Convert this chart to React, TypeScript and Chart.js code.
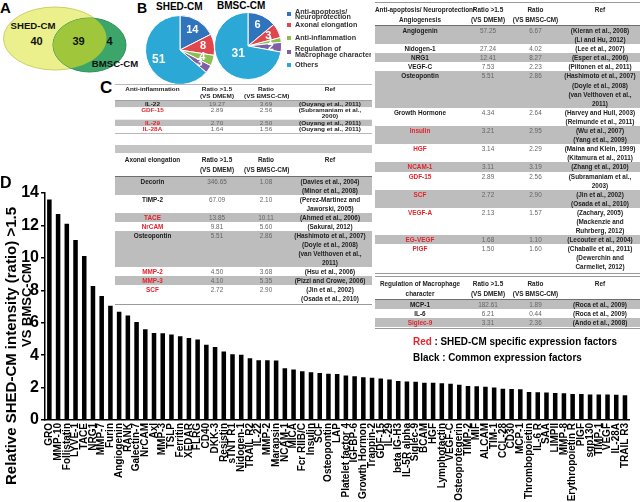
import React, { useEffect, useRef } from "react";
import { Chart, registerables } from "chart.js";
Chart.register(...registerables);

const FONT = '"Liberation Sans", Arial, Helvetica, sans-serif';

// ---------- Panel D data ----------
const factors = ["GRO","MMP-10","Follistatin","LYVE-1","TACE","NRG1","MMP-7","Furin","Angiogenin","RANK","Galectin-7","NrCAM","Axl","MMP-3","TSLP","Ferritin","XEDAR","FLRG","CD40","DKK-3","Resistin","sTNT R1","Nidogen-1","TRAIL R2","IL-22","MMP-2","Marapsin","NCAM-1","MICA","Fcr RIIB/C","Insulin","SCF","Osteopontin","LAP","Platelet factor 4","IGFBP-6","Growth Hormon","Trappin-2","GDF-15","IL-29","beta IG-H3","IL-5R alpha","Siglec-9","BCAM","HGF","Lymphotactin","VEGF-C","Osteoprotegerin","TIMP-2","MIF","ALCAM","TIM-1","CCL-28","CD30","MCP-1","Thrombopoietin","IL-6 R","SAA","LIMPII","MMP-8","Erythropoietin R","PlGF","sgp130","TIMP-1","VEGF","IL-28A","TRAIL R3"];
const ratioVsBMSC = [13.6,12.7,12.1,11.1,10.11,8.27,7.65,7.05,6.67,6.45,6.05,5.60,5.37,5.35,5.27,5.16,5.06,4.96,4.64,4.50,4.23,4.06,4.02,3.81,3.69,3.68,3.67,3.19,3.12,3.00,2.95,2.90,2.86,2.83,2.75,2.70,2.64,2.60,2.56,2.50,2.40,2.37,2.36,2.30,2.29,2.26,2.23,2.18,2.10,2.08,2.05,2.00,1.92,1.91,1.89,1.72,1.71,1.69,1.66,1.65,1.61,1.60,1.58,1.57,1.57,1.56,1.53];
const yMax = 14;
const yStep = 2;
const yTitleLine1 = "Relative SHED-CM intensity (ratio) >1.5";
const yTitleLine2 = "VS BMSC-CM";

// ---------- Panel A data ----------
const vennShedOnly = 40;
const vennCommon = 39;
const vennBmscOnly = 4;

// ---------- Panel B data ----------
const pieCategories = ["Anti-apoptosis/ Neuroprotection", "Axonal elongation", "Anti-inflammation", "Regulation of Macrophage character", "Others"];
const shedCounts = [14, 8, 4, 3, 51];
const bmscCounts = [6, 3, 1, 2, 31];
const pieColors = ["#3174be", "#e0474d", "#8dbe50", "#7f5fa5", "#2ba8d6"];

// ---------- Panel C data ----------
type Row = { name: string; red?: boolean; dmem: string; bmsc: string; refs: string[] };

const antiInflammationRows: Row[] = [
  { name: "IL-22", dmem: "19.27", bmsc: "3.69", refs: ["(Ouyang et al., 2011)"] },
  { name: "GDF-15", red: true, dmem: "2.89", bmsc: "2.56", refs: ["(Subramaniam et al.,", "2000)"] },
  { name: "IL-29", red: true, dmem: "2.70", bmsc: "2.50", refs: ["(Ouyang et al., 2011)"] },
  { name: "IL-28A", red: true, dmem: "1.64", bmsc: "1.56", refs: ["(Ouyang et al., 2011)"] },
];
const axonalRows: Row[] = [
  { name: "Decorin", dmem: "346.65", bmsc: "1.08", refs: ["(Davies et al., 2004)", "(Minor et al., 2008)"] },
  { name: "TIMP-2", dmem: "67.09", bmsc: "2.10", refs: ["(Perez-Martinez and", "Jaworski, 2005)"] },
  { name: "TACE", red: true, dmem: "13.85", bmsc: "10.11", refs: ["(Ahmed et al., 2006)"] },
  { name: "NrCAM", red: true, dmem: "9.81", bmsc: "5.60", refs: ["(Sakurai, 2012)"] },
  { name: "Osteopontin", dmem: "5.51", bmsc: "2.86", refs: ["(Hashimoto et al., 2007)", "(Doyle et al., 2008)", "(van Velthoven et al.,", "2011)"] },
  { name: "MMP-2", red: true, dmem: "4.50", bmsc: "3.68", refs: ["(Hsu et al., 2006)"] },
  { name: "MMP-3", red: true, dmem: "4.10", bmsc: "5.35", refs: ["(Pizzi and Crowe, 2006)"] },
  { name: "SCF", red: true, dmem: "2.72", bmsc: "2.90", refs: ["(Jin et al., 2002)", "(Osada et al., 2010)"] },
];
const angiogenesisRows: Row[] = [
  { name: "Angiogenin", dmem: "57.25", bmsc: "6.67", refs: ["(Kieran et al., 2008)", "(Li and Hu, 2012)"] },
  { name: "Nidogen-1", dmem: "27.24", bmsc: "4.02", refs: ["(Lee et al., 2007)"] },
  { name: "NRG1", dmem: "12.41", bmsc: "8.27", refs: ["(Esper et al., 2006)"] },
  { name: "VEGF-C", dmem: "7.53", bmsc: "2.23", refs: ["(Piltonen et al., 2011)"] },
  { name: "Osteopontin", dmem: "5.51", bmsc: "2.86", refs: ["(Hashimoto et al., 2007)", "(Doyle et al., 2008)", "(van Velthoven et al.,", "2011)"] },
  { name: "Growth Hormone", dmem: "4.34", bmsc: "2.64", refs: ["(Harvey and Hull, 2003)", "(Reimunde et al., 2011)"] },
  { name: "Insulin", red: true, dmem: "3.21", bmsc: "2.95", refs: ["(Wu et al., 2007)", "(Yang et al., 2009)"] },
  { name: "HGF", red: true, dmem: "3.14", bmsc: "2.29", refs: ["(Maina and Klein, 1999)", "(Kitamura et al., 2011)"] },
  { name: "NCAM-1", red: true, dmem: "3.11", bmsc: "3.19", refs: ["(Zhang et al., 2010)"] },
  { name: "GDF-15", red: true, dmem: "2.89", bmsc: "2.56", refs: ["(Subramaniam et al.,", "2003)"] },
  { name: "SCF", red: true, dmem: "2.72", bmsc: "2.90", refs: ["(Jin et al., 2002)", "(Osada et al., 2010)"] },
  { name: "VEGF-A", red: true, dmem: "2.13", bmsc: "1.57", refs: ["(Zachary, 2005)", "(Mackenzie and", "Ruhrberg, 2012)"] },
  { name: "EG-VEGF", red: true, dmem: "1.68", bmsc: "1.10", refs: ["(Lecouter et al., 2004)"] },
  { name: "PlGF", red: true, dmem: "1.50", bmsc: "1.60", refs: ["(Chaballe et al., 2011)", "(Dewerchin and", "Carmeliet, 2012)"] },
];
const macrophageRows: Row[] = [
  { name: "MCP-1", dmem: "182.61", bmsc: "1.89", refs: ["(Roca et al., 2009)"] },
  { name: "IL-6", dmem: "6.21", bmsc: "0.44", refs: ["(Roca et al., 2009)"] },
  { name: "Siglec-9", red: true, dmem: "3.31", bmsc: "2.36", refs: ["(Ando et al., 2008)"] },
];

const RED = "#e3242b";

function DataTable(props: {
  left: number; top: number; width: number; cols: number[]; title: string[];
  rows: Row[]; lineH?: number; scaleY?: number; topBorder?: boolean;
}) {
  const { left, top, width, cols, title, rows, lineH = 9, scaleY = 1, topBorder = true } = props;
  const cell = (w: number, content: React.ReactNode, extra: React.CSSProperties = {}) => (
    <div style={{ width: w, textAlign: "center", whiteSpace: "nowrap", ...extra }}>{content}</div>
  );
  return (
    <div style={{ position: "absolute", left, top, width, transform: `scaleY(${scaleY})`, transformOrigin: "top left", fontFamily: FONT, fontSize: 6.4 }}>
      <div style={{ display: "flex", height: 24, boxSizing: "border-box", paddingTop: 2, lineHeight: "10px", fontWeight: "bold", color: "#222", borderTop: topBorder ? "1px solid #9a9a9a" : "none", borderBottom: "1.6px solid #6e6e6e" }}>
        {cell(cols[0], title.map((t, i) => <div key={i}>{t}</div>))}
        {cell(cols[1], <><div>Ratio &gt;1.5</div><div>(VS DMEM)</div></>)}
        {cell(cols[2], <><div>Ratio</div><div>(VS BMSC-CM)</div></>)}
        {cell(cols[3], <div>Ref</div>)}
      </div>
      {rows.map((r, i) => (
        <div key={i} style={{ display: "flex", height: r.refs.length * lineH, lineHeight: lineH + "px", background: i % 2 === 0 ? "#bdbdbd" : "transparent" }}>
          {cell(cols[0], r.name, { fontWeight: "bold", color: r.red ? RED : "#1a1a1a" })}
          {cell(cols[1], r.dmem, { color: "#666" })}
          {cell(cols[2], r.bmsc, { color: "#666" })}
          {cell(cols[3], r.refs.map((t, k) => <div key={k}>{t}</div>), { fontWeight: "bold", color: "#222" })}
        </div>
      ))}
      <div style={{ borderTop: "1.6px solid #9a9a9a", marginTop: 1 }} />
    </div>
  );
}

function BarChart() {
  const ref = useRef<HTMLCanvasElement>(null);
  useEffect(() => {
    const titlePlugin = {
      id: "yTitle",
      afterDraw(chart: any) {
        const { ctx, chartArea } = chart;
        const draw = (text: string, x: number, y: number, size: number) => {
          ctx.save();
          ctx.fillStyle = "#000";
          ctx.textAlign = "center";
          ctx.textBaseline = "middle";
          ctx.font = `bold ${size}px ${FONT}`;
          ctx.translate(x, y);
          ctx.rotate(-Math.PI / 2);
          ctx.fillText(text, 0, 0);
          ctx.restore();
        };
        draw(yTitleLine1, 12, chartArea.top + 153, 15);
        draw(yTitleLine2, 27, chartArea.top + 112, 13);
      },
    };
    const chart = new Chart(ref.current!, {
      type: "bar",
      data: {
        labels: factors,
        datasets: [{ data: ratioVsBMSC, backgroundColor: "#000", borderWidth: 0, barPercentage: 0.52, categoryPercentage: 1 }],
      },
      options: {
        responsive: false,
        animation: false,
        layout: { padding: { top: 43, right: 5, left: 0, bottom: 0 } },
        plugins: { legend: { display: false }, tooltip: { enabled: false } },
        scales: {
          x: {
            grid: { display: false, drawTicks: false },
            border: { display: true, color: "#000", width: 1.5 },
            ticks: { autoSkip: false, maxRotation: 90, minRotation: 90, padding: 3, color: "#000", font: { family: FONT, weight: "bold", size: 10 } },
            afterFit: (s: any) => { s.height = 82; },
          },
          y: {
            min: 0,
            max: yMax,
            ticks: { stepSize: yStep, padding: 2, color: "#000", font: { family: FONT, weight: "bold", size: 16 } },
            grid: { drawOnChartArea: false, drawTicks: true, tickLength: 4, color: "#000", lineWidth: 1.5 },
            border: { display: true, color: "#000", width: 1.5 },
            afterFit: (s: any) => { s.width = 45; },
          },
        },
      } as any,
      plugins: [titlePlugin],
    });
    return () => chart.destroy();
  }, []);
  return <canvas ref={ref} width={640} height={352} style={{ position: "absolute", left: 0, top: 150, width: 640, height: 352 }} />;
}

function PieChart(props: { counts: number[]; left: number; top: number; size: number; othersR: number }) {
  const { counts, left, top, size, othersR } = props;
  const ref = useRef<HTMLCanvasElement>(null);
  useEffect(() => {
    const labelPlugin = {
      id: "sliceLabels",
      afterDatasetsDraw(chart: any) {
        const { ctx } = chart;
        const meta = chart.getDatasetMeta(0);
        ctx.save();
        ctx.fillStyle = "#fff";
        ctx.textAlign = "center";
        ctx.textBaseline = "middle";
        meta.data.forEach((arc: any, i: number) => {
          const p = arc.getProps(["x", "y", "startAngle", "endAngle", "outerRadius"], true);
          const mid = (p.startAngle + p.endAngle) / 2;
          const f = i === 4 ? othersR : 0.68;
          ctx.font = `bold ${i === 4 ? 12 : 11}px ${FONT}`;
          ctx.fillText(String(counts[i]), p.x + Math.cos(mid) * p.outerRadius * f, p.y + Math.sin(mid) * p.outerRadius * f);
        });
        ctx.restore();
      },
    };
    const chart = new Chart(ref.current!, {
      type: "pie",
      data: { labels: pieCategories, datasets: [{ data: counts, backgroundColor: pieColors, borderColor: "#fff", borderWidth: 1 }] },
      options: { responsive: false, animation: false, plugins: { legend: { display: false }, tooltip: { enabled: false } } } as any,
      plugins: [labelPlugin],
    });
    return () => chart.destroy();
  }, []);
  return <canvas ref={ref} width={size} height={size} style={{ position: "absolute", left, top, width: size, height: size }} />;
}

function Venn() {
  return (
    <svg width={140} height={80} style={{ position: "absolute", left: 0, top: 0 }}>
      <defs>
        <clipPath id="yclip"><ellipse cx={55} cy={38.5} rx={51.5} ry={31.5} /></clipPath>
      </defs>
      <ellipse cx={55} cy={38.5} rx={51.5} ry={31.5} fill="#ebf08c" stroke="#c9d163" strokeWidth={1} />
      <ellipse cx={89.5} cy={45} rx={36.5} ry={27} fill="#3ca66a" stroke="#2f8f57" strokeWidth={1} />
      <ellipse cx={89.5} cy={45} rx={36.5} ry={27} fill="#a0c63c" clipPath="url(#yclip)" />
      <g fontFamily={FONT} fontWeight="bold" fill="#111" textAnchor="middle" dominantBaseline="middle">
        <text x={33} y={26} fontSize={9.6}>SHED-CM</text>
        <text x={36.5} y={42} fontSize={11}>{vennShedOnly}</text>
        <text x={78.5} y={42} fontSize={11}>{vennCommon}</text>
        <text x={109.5} y={42} fontSize={11}>{vennBmscOnly}</text>
        <text x={115} y={64} fontSize={9.6}>BMSC-CM</text>
      </g>
    </svg>
  );
}

function PieLegend() {
  const tops = [8.9, 22.2, 35.2, 46.3, 62.2];
  const texts = [["Anti-apoptosis/", "Neuroprotection"], ["Axonal elongation"], ["Anti-inflammation"], ["Regulation of", "Macrophage character"], ["Others"]];
  return (
    <div style={{ position: "absolute", left: 285, top: 0, width: 86, height: 80, overflow: "hidden", fontFamily: FONT, fontWeight: "bold", fontSize: 7.2, color: "#333" }}>
      {texts.map((t, i) => (
        <div key={i} style={{ position: "absolute", left: 0, top: tops[i], display: "flex", alignItems: "center", whiteSpace: "nowrap" }}>
          <div style={{ width: 4, height: 4, background: pieColors[i], marginLeft: 2, marginRight: 4 }} />
          <div style={{ lineHeight: "5.6px" }}>{t.map((s, k) => <div key={k}>{s}</div>)}</div>
        </div>
      ))}
    </div>
  );
}

const panelLetter = (ch: string, left: number, top: number, size: number) => (
  <div style={{ position: "absolute", left, top, fontFamily: FONT, fontWeight: "bold", fontSize: size, lineHeight: 1, color: "#000" }}>{ch}</div>
);

export default function App() {
  return (
    <div style={{ position: "fixed", left: 0, top: 0, width: 640, height: 502, background: "#fff", overflow: "hidden" }}>
      <BarChart />
      <Venn />
      {panelLetter("A", 0, 0, 15)}
      {panelLetter("B", 137, 1, 14)}
      {panelLetter("C", 100, 79, 17)}
      {panelLetter("D", 0, 175, 16)}
      <div style={{ position: "absolute", left: 156, top: 1, fontFamily: FONT, fontWeight: "bold", fontSize: 10 }}>SHED-CM</div>
      <div style={{ position: "absolute", left: 217, top: 0, fontFamily: FONT, fontWeight: "bold", fontSize: 10 }}>BMSC-CM</div>
      <PieChart counts={shedCounts} left={145} top={15} size={70} othersR={0.68} />
      <PieChart counts={bmscCounts} left={214} top={12} size={68} othersR={0.38} />
      <PieLegend />
      <DataTable left={115} top={84} width={257} cols={[75, 54, 44, 84]} title={["Anti-inflammation"]} rows={antiInflammationRows} scaleY={0.7} />
      <div style={{ position: "absolute", left: 115, top: 145, width: 257, height: 8, background: "#c4c4c4" }} />
      <DataTable left={115} top={153} width={257} cols={[75, 54, 44, 84]} title={["Axonal elongation"]} rows={axonalRows} topBorder={false} />
      <DataTable left={375} top={2} width={265} cols={[90, 46, 49, 80]} title={["Anti-apoptosis/ Neuroprotection/", "Angiogenesis"]} rows={angiogenesisRows} lineH={9.1} />
      <DataTable left={375} top={276} width={265} cols={[90, 46, 49, 80]} title={["Regulation of Macrophage", "character"]} rows={macrophageRows} />
      <div style={{ position: "absolute", left: 413, top: 333, fontFamily: FONT, fontWeight: "bold", fontSize: 11.5, lineHeight: "16px", transform: "scaleX(0.86)", transformOrigin: "left top", whiteSpace: "nowrap" }}>
        <div><span style={{ color: RED }}>Red</span> : SHED-CM specific expression factors</div>
        <div>Black : Common expression factors</div>
      </div>
    </div>
  );
}
